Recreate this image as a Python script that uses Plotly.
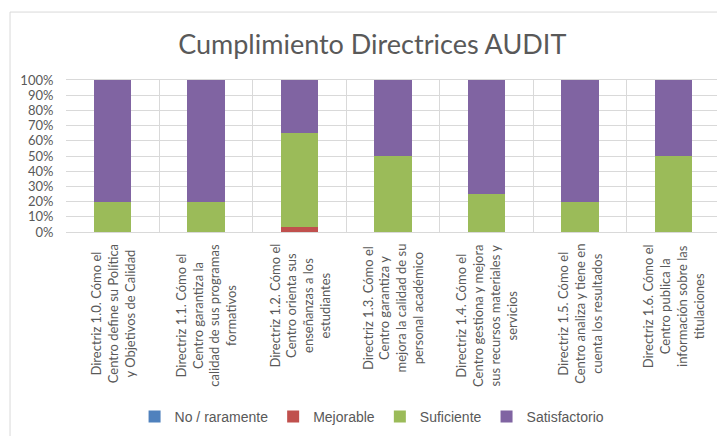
import plotly.graph_objects as go

# Datos (porcentaje por directriz)
categorias = [
    "Directriz 1.0",
    "Directriz 1.1",
    "Directriz 1.2",
    "Directriz 1.3",
    "Directriz 1.4",
    "Directriz 1.5",
    "Directriz 1.6",
]
etiquetas = [
    "Directriz 1.0. Cómo el<br>Centro define su Política<br>y Objetivos de Calidad",
    "Directriz 1.1. Cómo el<br>Centro garantiza la<br>calidad de sus programas<br>formativos",
    "Directriz 1.2. Cómo el<br>Centro orienta sus<br>enseñanzas a los<br>estudiantes",
    "Directriz 1.3. Cómo el<br>Centro garantiza y<br>mejora la calidad de su<br>personal académico",
    "Directriz 1.4. Cómo el<br>Centro gestiona y mejora<br>sus recursos materiales y<br>servicios",
    "Directriz 1.5. Cómo el<br>Centro analiza y tiene en<br>cuenta los resultados",
    "Directriz 1.6. Cómo el<br>Centro publica la<br>información sobre las<br>titulaciones",
]
no_raramente = [0, 0, 0, 0, 0, 0, 0]
mejorable = [0, 0, 3, 0, 0, 0, 0]
suficiente = [20, 20, 62, 50, 25, 20, 50]
satisfactorio = [80, 80, 35, 50, 75, 80, 50]

y_ticks = list(range(0, 101, 10))
y_labels = [f"{v}%" for v in y_ticks]

series = [
    ("No / raramente", no_raramente, "#4F81BD"),
    ("Mejorable", mejorable, "#C0504D"),
    ("Suficiente", suficiente, "#9BBB59"),
    ("Satisfactorio", satisfactorio, "#8064A2"),
]

fig = go.Figure()
for nombre, valores, color in series:
    fig.add_trace(go.Bar(
        name=nombre,
        x=categorias,
        y=valores,
        marker=dict(color=color, line=dict(width=0)),
    ))

# etiquetas de categoría giradas, centradas línea a línea
anotaciones = []
for cat, texto in zip(categorias, etiquetas):
    anotaciones.append(dict(
        x=cat, y=0, xref="x", yref="y",
        text=texto, textangle=-90, align="center",
        xanchor="center", yanchor="top", yshift=-10,
        showarrow=False,
        font=dict(size=13, color="#595959", family="Lato, Open Sans, sans-serif"),
    ))

# la página tiene 8 px de margen en el body: figura algo más pequeña
fig.update_layout(
    barmode="stack",
    bargap=0.6,
    width=717,
    height=428,
    margin=dict(l=58, r=5, t=72, b=204, autoexpand=False),
    plot_bgcolor="white",
    paper_bgcolor="white",
    font=dict(family="Lato, Open Sans, sans-serif", color="#595959", size=12),
    title=dict(
        text="Cumplimiento Directrices AUDIT",
        x=0.508, xanchor="center",
        y=0.9136, yanchor="middle",
        font=dict(size=27, color="#595959", family="Lato, Open Sans, sans-serif"),
    ),
    showlegend=True,
    legend=dict(
        orientation="h",
        x=0.468, xanchor="center",
        y=-1.217, yanchor="middle",
        font=dict(size=14, family="Liberation Sans, Arial, sans-serif", color="#595959"),
        itemwidth=30,
        traceorder="normal",
    ),
    xaxis=dict(
        type="category",
        tickson="boundaries",
        showgrid=True,
        gridcolor="#d9d9d9",
        ticks="",
        showticklabels=False,
        showline=True,
        linecolor="#d9d9d9",
        mirror=True,
        automargin=False,
    ),
    yaxis=dict(
        range=[0, 100],
        tickvals=y_ticks,
        ticktext=y_labels,
        showgrid=True,
        gridcolor="#d9d9d9",
        zeroline=False,
        ticks="outside",
        ticklen=9,
        tickcolor="rgba(0,0,0,0)",
        tickfont=dict(size=13, color="#595959"),
        showline=False,
        automargin=False,
    ),
    annotations=anotaciones,
    shapes=[dict(
        type="rect", xref="paper", yref="paper",
        x0=-0.0856, x1=1.03, y0=-1.45, y1=1.447,
        line=dict(color="#d9d9d9", width=1),
        fillcolor="rgba(0,0,0,0)",
        layer="below",
    )],
)

fig.write_html("out.html")
